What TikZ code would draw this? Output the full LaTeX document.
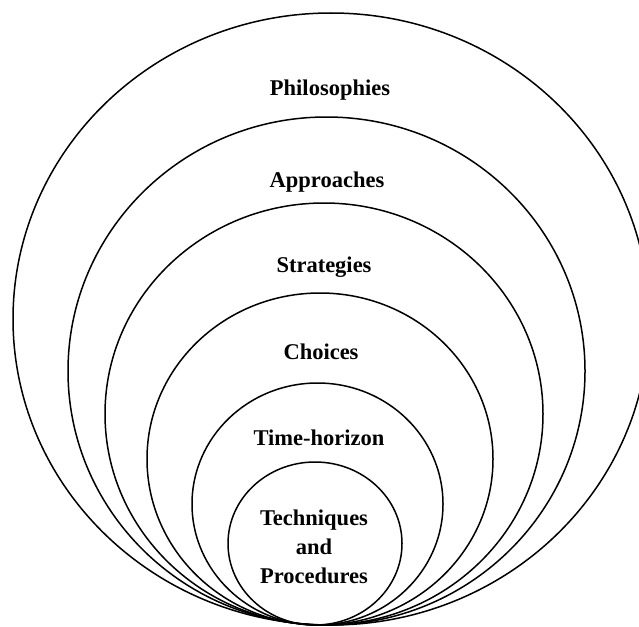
\documentclass[tikz,border=0pt]{standalone}
\usepackage{fontspec}
\setmainfont{Liberation Serif}
\begin{document}
\begin{tikzpicture}[x=1pt,y=-1pt,
  ring/.style={draw=black,line width=1.5pt},
  lbl/.style={font=\fontsize{22.5}{29}\selectfont\bfseries,align=center,inner sep=0pt}]
\useasboundingbox (0,0) rectangle (639,626);
% nested rings, all touching near the bottom
\draw[ring] (331,319) ellipse (318 and 306);
\draw[ring] (326.5,371) ellipse (258.5 and 254);
\draw[ring] (324,414) ellipse (219 and 211);
\draw[ring] (320,459) ellipse (173 and 166);
\draw[ring] (317.5,504) ellipse (125.5 and 121);
\draw[ring] (315,543.5) ellipse (87 and 81.5);
% level labels
\node[lbl] (phil) at (330,90) {Philosophies};
\node[lbl] (appr) at (327,182) {Approaches};
\node[lbl] (strat) at (324,267) {Strategies};
\node[lbl] (choi) at (321,352) {Choices};
\node[lbl] (time) at (319,438) {Time-horizon};
\node[lbl] (tech) at (314,547) {Techniques\\and\\Procedures};
\end{tikzpicture}
\end{document}
